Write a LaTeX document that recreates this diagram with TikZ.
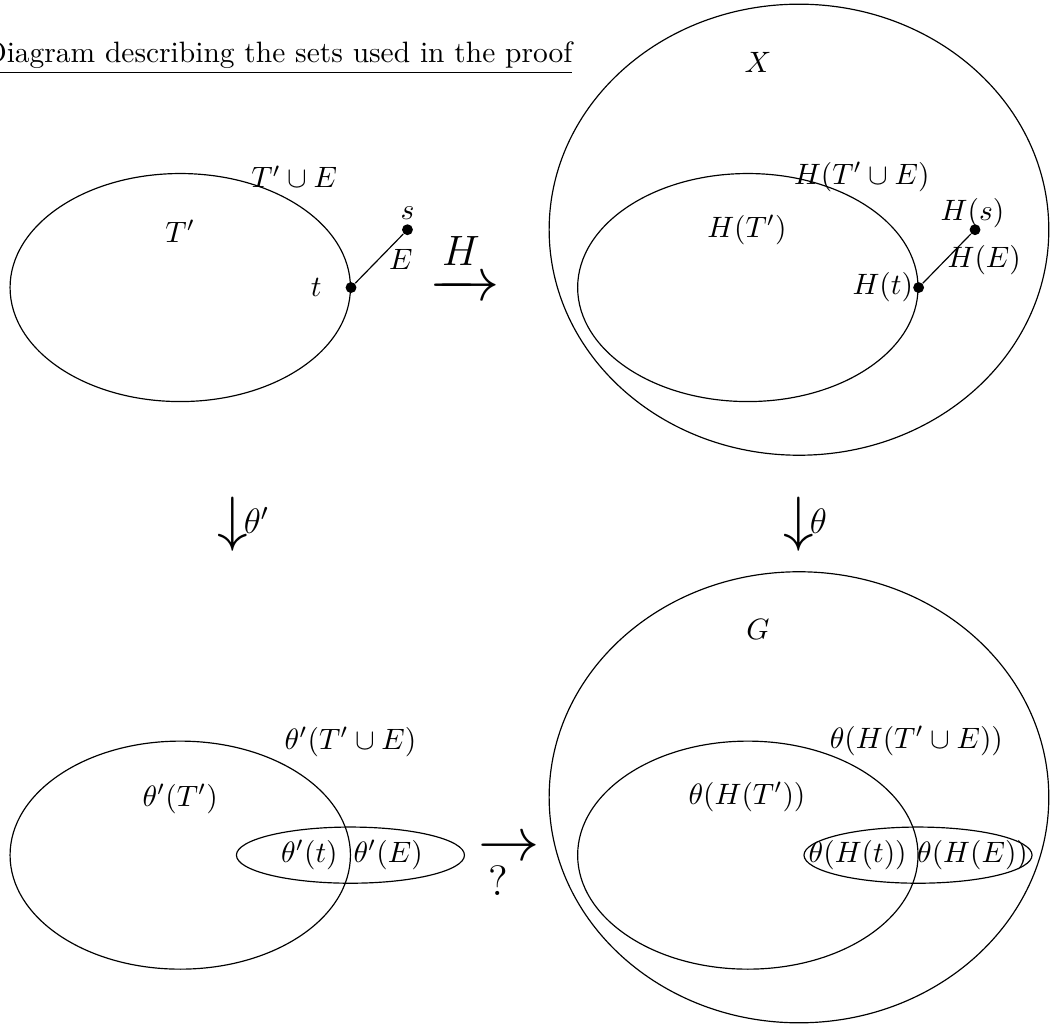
\documentclass[tikz,border=0pt]{standalone}
\usepackage{amsmath}
\usetikzlibrary{shapes.geometric}

\begin{document}
\begin{tikzpicture}[
    set/.style={
        draw,
        ellipse,
        inner sep=0pt
    },
    bigset/.style={
        set,
        minimum width=5.96cm,
        minimum height=5.38cm
    },
    midset/.style={
        set,
        minimum width=4.06cm,
        minimum height=2.72cm
    },
    smallset/.style={
        set,
        minimum width=2.72cm,
        minimum height=0.67cm
    },
    dot/.style={
        circle,
        fill,
        inner sep=0pt,
        minimum size=0.13cm
    },
    mapto/.style={
        font=\huge,
        inner sep=0pt
    }
]
\useasboundingbox (-2.15,3.43) rectangle (10.41,-8.82);

% Title
\node[anchor=base] (title) at (1.17,2.69) {\underline{Diagram describing the sets used in the proof}};

% Top left
\node[midset] (Tp) at (0,0) {};
\node[dot] (t) at (Tp.east) {};
\node[dot] (s) at (2.71,0.69) {};
\draw (t) -- (s);
\node (lTp) at (0,0.67) {$T'$};
\node (lTE) at (1.36,1.32) {$T' \cup E$};
\node (ls) at (2.71,0.89) {$s$};
\node (lE) at (2.63,0.33) {$E$};
\node (lt) at (1.62,0) {$t$};

% Top right
\node[bigset] (X) at (7.38,0.69) {};
\node[midset] (HTp) at (6.77,0) {};
\node[dot] (Ht) at (HTp.east) {};
\node[dot] (Hs) at (9.48,0.69) {};
\draw (Ht) -- (Hs);
\node (lX) at (6.89,2.69) {$X$};
\node (lHTp) at (6.76,0.69) {$H(T')$};
\node (lHTE) at (8.13,1.32) {$H(T' \cup E)$};
\node (lHs) at (9.45,0.89) {$H(s)$};
\node (lHE) at (9.59,0.33) {$H(E)$};
\node (lHt) at (8.38,0) {$H(t)$};

% Maps
\node[mapto] (mapH) at (3.39,0.26) {$\xrightarrow{H}$};
\node[mapto, anchor=west] (mapthp) at (0.44,-2.82) {$\downarrow$\kern-1.5pt\large\raisebox{2pt}{$\theta'$}};
\node[mapto, anchor=west] (mapth) at (7.19,-2.82) {$\downarrow$\kern-1.5pt\large\raisebox{2pt}{$\theta$}};
\node[mapto] (mapq) at (3.92,-6.70) {$\rightarrow$};
\node[font=\Large] (lq) at (3.79,-7.08) {$?$};

% Bottom left
\node[midset] (thTp) at (0,-6.77) {};
\node[smallset] (thE) at (2.03,-6.77) {};
\node (lthTp) at (0,-6.10) {$\theta'(T')$};
\node (lthTE) at (2.03,-5.42) {$\theta'(T' \cup E)$};
\node (ltht) at (1.54,-6.77) {$\theta'(t)$};
\node (lthE) at (2.48,-6.77) {$\theta'(E)$};

% Bottom right
\node[bigset] (G) at (7.38,-6.08) {};
\node[midset] (thHTp) at (6.77,-6.77) {};
\node[smallset] (thHE) at (8.80,-6.77) {};
\node (lG) at (6.89,-4.08) {$G$};
\node (lthHTp) at (6.76,-6.08) {$\theta(H(T'))$};
\node (lthHTE) at (8.78,-5.41) {$\theta(H(T' \cup E))$};
\node (lthHt) at (8.08,-6.77) {$\theta(H(t))$};
\node (lthHE) at (9.45,-6.77) {$\theta(H(E))$};

\end{tikzpicture}
\end{document}
